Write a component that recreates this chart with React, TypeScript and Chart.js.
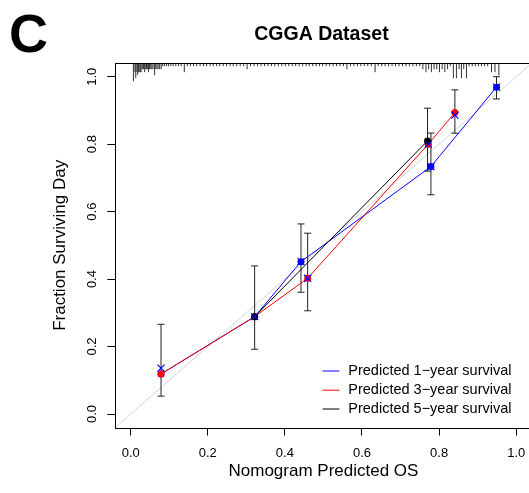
import React, { useEffect, useRef } from "react";
import { Chart, registerables } from "chart.js";

Chart.register(...registerables);

const FONT = "'Liberation Sans', Arial, Helvetica, sans-serif";

const panelLetter = "C";
const chartTitle = "CGGA Dataset";
const xTitle = "Nomogram Predicted OS";
const yTitle = "Fraction Surviving Day";
const legendLabels = [
  "Predicted 1\u2212year survival",
  "Predicted 3\u2212year survival",
  "Predicted 5\u2212year survival",
];
const seriesColors = ["#0000FF", "#FF0000", "#000000"];

const xTicks = [0, 0.2, 0.4, 0.6, 0.8, 1.0];
const yTicks = [0, 0.2, 0.4, 0.6, 0.8, 1.0];

// 1-year
const blueX = [0.0786, 0.3215, 0.4417, 0.7788, 0.949];
const blueY = [0.1186, 0.2886, 0.4517, 0.7335, 0.969];
// 3-year
const redX = [0.0786, 0.3215, 0.459, 0.772, 0.841];
const redY = [0.1186, 0.2886, 0.4024, 0.8, 0.8935];
// 5-year
const blackX = [0.3215, 0.77];
const blackY = [0.2886, 0.8096];

// bias-corrected estimates (blue x)
const corrX = [0.0786, 0.3215, 0.4417, 0.459, 0.772, 0.7788, 0.841, 0.949];
const corrY = [0.136, 0.2886, 0.4517, 0.4024, 0.8, 0.7335, 0.886, 0.969];

// error bars
const errX = [0.0786, 0.3215, 0.4417, 0.459, 0.77, 0.7788, 0.841, 0.949];
const errLo = [0.053, 0.192, 0.361, 0.306, 0.72, 0.65, 0.8325, 0.934];
const errHi = [0.266, 0.439, 0.5635, 0.536, 0.9066, 0.833, 0.961, 1.0];

// distribution of predictions (rug at top): position and relative frequency
const rugX = [
  0.007, 0.011, 0.013, 0.016, 0.018, 0.02, 0.022, 0.025, 0.027, 0.03, 0.033, 0.036, 0.039,
  0.041, 0.044, 0.046, 0.049, 0.052, 0.055, 0.058, 0.062, 0.065, 0.068, 0.071, 0.075, 0.079,
  0.083, 0.088, 0.093, 0.098, 0.104, 0.11, 0.117, 0.124, 0.131, 0.139, 0.147, 0.155, 0.163,
  0.171, 0.18, 0.189, 0.197, 0.206, 0.214, 0.223, 0.231, 0.24, 0.249, 0.258, 0.266, 0.275,
  0.284, 0.293, 0.302, 0.311, 0.32, 0.329, 0.338, 0.347, 0.356, 0.365, 0.374, 0.383, 0.392,
  0.401, 0.41, 0.419, 0.428, 0.437, 0.446, 0.455, 0.463, 0.472, 0.481, 0.49, 0.498, 0.507,
  0.516, 0.525, 0.534, 0.543, 0.552, 0.561, 0.57, 0.579, 0.588, 0.597, 0.606, 0.615, 0.624,
  0.634, 0.642, 0.651, 0.66, 0.669, 0.678, 0.687, 0.696, 0.705, 0.714, 0.723, 0.732, 0.741,
  0.75, 0.758, 0.766, 0.773, 0.78, 0.787, 0.794, 0.801, 0.808, 0.815, 0.822, 0.829, 0.837,
  0.845, 0.852, 0.858, 0.864, 0.871, 0.878, 0.886, 0.894, 0.902, 0.91, 0.918, 0.926, 0.936,
  0.945, 0.955,
];
const rugN = [
  6, 3, 5, 3, 4, 3, 3, 3, 3, 2, 2, 3, 2,
  2, 2, 3, 2, 2, 2, 2, 4, 2, 2, 2, 2, 2,
  1, 1, 1, 1, 1, 1, 1, 1, 1, 3, 1, 1, 1,
  1, 1, 1, 1, 1, 1, 1, 1, 1, 1, 1, 1, 1,
  1, 1, 2, 1, 1, 1, 1, 1, 1, 1, 1, 1, 1,
  1, 1, 1, 1, 1, 1, 1, 1, 1, 1, 1, 1, 1,
  1, 1, 1, 1, 1, 2, 1, 1, 1, 1, 1, 1, 1,
  3, 1, 1, 1, 1, 1, 1, 1, 1, 1, 1, 1, 1,
  1, 2, 3, 2, 3, 2, 2, 3, 2, 3, 2, 1, 5,
  5, 2, 5, 2, 5, 1, 1, 1, 1, 1, 1, 1, 3,
  3, 4,
];

const toPts = (xs: number[], ys: number[]) => xs.map((x, i) => ({ x, y: ys[i] }));

const calibPlugin = {
  id: "calibExtras",
  beforeDatasetsDraw(chart: any) {
    const { ctx, chartArea: a, scales } = chart;
    const x = scales.x;
    const y = scales.y;
    ctx.save();
    ctx.beginPath();
    ctx.rect(a.left, a.top, a.right - a.left, a.bottom - a.top);
    ctx.clip();
    // reference diagonal y = x
    ctx.strokeStyle = "#d2d2d2";
    ctx.lineWidth = 1;
    ctx.beginPath();
    ctx.moveTo(x.getPixelForValue(x.min), y.getPixelForValue(x.min));
    ctx.lineTo(x.getPixelForValue(x.max), y.getPixelForValue(x.max));
    ctx.stroke();
    // rug
    ctx.strokeStyle = "#333";
    ctx.lineWidth = 1;
    for (let i = 0; i < rugX.length; i++) {
      const px = x.getPixelForValue(rugX[i]);
      ctx.beginPath();
      ctx.moveTo(px, a.top);
      ctx.lineTo(px, a.top + rugN[i] * 3);
      ctx.stroke();
    }
    ctx.restore();

    // error bars
    ctx.save();
    ctx.strokeStyle = "#222";
    ctx.lineWidth = 1;
    for (let i = 0; i < errX.length; i++) {
      const px = x.getPixelForValue(errX[i]);
      const p1 = y.getPixelForValue(errLo[i]);
      const p2 = y.getPixelForValue(errHi[i]);
      ctx.beginPath();
      ctx.moveTo(px, p1);
      ctx.lineTo(px, p2);
      ctx.moveTo(px - 3.5, p1);
      ctx.lineTo(px + 3.5, p1);
      ctx.moveTo(px - 3.5, p2);
      ctx.lineTo(px + 3.5, p2);
      ctx.stroke();
    }
    ctx.restore();
  },
  afterDraw(chart: any) {
    const { ctx, chartArea: a, scales } = chart;
    const y = scales.y;
    ctx.save();
    // box
    ctx.strokeStyle = "#000";
    ctx.lineWidth = 1;
    ctx.strokeRect(Math.round(a.left) + 0.5, Math.round(a.top) + 0.5, a.right - a.left, Math.round(a.bottom) - Math.round(a.top));

    // rotated y tick labels
    ctx.fillStyle = "#000";
    ctx.font = `13px ${FONT}`;
    ctx.textAlign = "center";
    ctx.textBaseline = "alphabetic";
    for (const v of yTicks) {
      const py = y.getPixelForValue(v);
      ctx.save();
      ctx.translate(a.left - 19.5, py);
      ctx.rotate(-Math.PI / 2);
      ctx.fillText(v.toFixed(1), 0, 0);
      ctx.restore();
    }

    // title
    ctx.font = `bold 19.5px ${FONT}`;
    ctx.textAlign = "center";
    ctx.textBaseline = "middle";
    ctx.fillText(chartTitle, (a.left + a.right) / 2 - 2, 35);

    // panel letter
    ctx.font = `bold 54px ${FONT}`;
    ctx.textAlign = "left";
    ctx.textBaseline = "alphabetic";
    ctx.fillText(panelLetter, 9, 52);

    // legend
    ctx.font = `14.5px ${FONT}`;
    ctx.textBaseline = "middle";
    const rows = [56.5, 37.3, 18.5];
    legendLabels.forEach((lab, i) => {
      const ly = a.bottom - rows[i];
      ctx.strokeStyle = seriesColors[i];
      ctx.lineWidth = 1;
      ctx.beginPath();
      ctx.moveTo(a.right - 209, ly);
      ctx.lineTo(a.right - 192.3, ly);
      ctx.stroke();
      ctx.fillStyle = "#000";
      ctx.fillText(lab, a.right - 183.3, ly);
    });
    ctx.restore();
  },
};

export default function App() {
  const ref = useRef<HTMLCanvasElement | null>(null);
  useEffect(() => {
    if (!ref.current) return;
    const lineDs = (label: string, xs: number[], ys: number[], color: string, order: number) => ({
      label,
      data: toPts(xs, ys),
      showLine: true,
      borderColor: color,
      borderWidth: 1,
      backgroundColor: color,
      pointBackgroundColor: color,
      pointBorderWidth: 0,
      pointRadius: 3.5,
      order,
    });
    const chart = new Chart(ref.current, {
      type: "scatter",
      data: {
        datasets: [
          {
            label: "corrected",
            data: toPts(corrX, corrY),
            showLine: false,
            pointStyle: "crossRot",
            pointRadius: 5,
            borderColor: "#0000FF",
            pointBorderColor: "#0000FF",
            pointBorderWidth: 1.2,
            order: 0,
          } as any,
          lineDs(legendLabels[2], blackX, blackY, seriesColors[2], 1),
          lineDs(legendLabels[1], redX, redY, seriesColors[1], 2),
          lineDs(legendLabels[0], blueX, blueY, seriesColors[0], 3),
        ],
      },
      options: {
        responsive: false,
        devicePixelRatio: 1,
        animation: false,
        events: [],
        layout: { padding: { top: 63.2, right: 13.4, left: 0, bottom: 0 } },
        plugins: {
          legend: { display: false },
          tooltip: { enabled: false },
          title: { display: false },
        },
        scales: {
          x: {
            type: "linear",
            min: -0.04,
            max: 1.04,
            afterBuildTicks: (s: any) => {
              s.ticks = xTicks.map((v) => ({ value: v }));
            },
            afterFit: (s: any) => {
              s.height = 65.5;
            },
            grid: { drawOnChartArea: false, drawTicks: true, tickLength: 8, color: "#000", lineWidth: 1 },
            border: { display: false },
            ticks: {
              autoSkip: false,
              maxRotation: 0,
              minRotation: 0,
              padding: 10,
              color: "#000",
              font: { size: 13, family: FONT },
              callback: (v: any) => Number(v).toFixed(1),
            },
            title: {
              display: true,
              text: xTitle,
              color: "#000",
              font: { size: 17, family: FONT },
              padding: { top: 0, bottom: 11.8 },
            },
          },
          y: {
            type: "linear",
            min: -0.04,
            max: 1.04,
            afterBuildTicks: (s: any) => {
              s.ticks = yTicks.map((v) => ({ value: v }));
            },
            afterFit: (s: any) => {
              s.width = 115.3;
            },
            grid: { drawOnChartArea: false, drawTicks: true, tickLength: 8, color: "#000", lineWidth: 1 },
            border: { display: false },
            ticks: { display: false },
            title: {
              display: true,
              text: yTitle,
              color: "#000",
              font: { size: 17, family: FONT },
              padding: { top: 50, bottom: 0 },
            },
          },
        },
      } as any,
      plugins: [calibPlugin],
    });
    return () => chart.destroy();
  }, []);

  return (
    <div
      style={{
        position: "fixed",
        left: 0,
        top: 0,
        width: 529,
        height: 493,
        overflow: "hidden",
        background: "#fff",
      }}
    >
      <canvas ref={ref} width={545} height={493} style={{ display: "block", width: 545, height: 493 }} />
    </div>
  );
}
